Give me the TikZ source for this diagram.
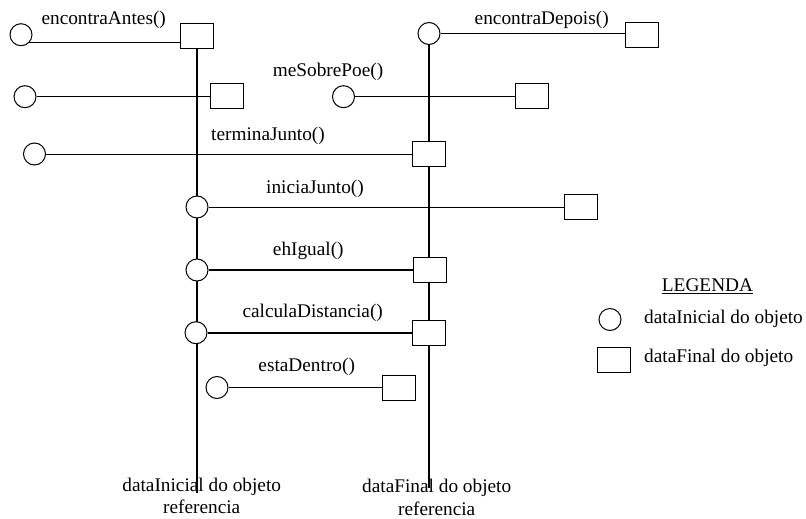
\documentclass[tikz,border=0pt]{standalone}
\usepackage{fontspec}
\setmainfont{Liberation Serif}
\usetikzlibrary{backgrounds}
\begin{document}
\begin{tikzpicture}[x=1pt,y=-1pt,
  txt/.style={font=\fontsize{19.3}{22}\selectfont, inner sep=0pt, anchor=base},
  ini/.style={circle, draw, line width=1pt, fill=white, minimum size=22pt, inner sep=0pt},
  fim/.style={rectangle, draw, line width=1pt, fill=white, minimum width=33pt, minimum height=25pt, inner sep=0pt},
  eixo/.style={line width=1.8pt},
  liga/.style={line width=1pt},
  ligaforte/.style={line width=1.6pt}]
\useasboundingbox (0,0) rectangle (806,519);

% start (circle) and end (square) markers
\node[ini] (c1) at (21,34.7) {};   \node[fim] (s1) at (197,36.2) {};
\node[ini] (c2) at (25,96.7) {};   \node[fim] (s2) at (227,96) {};
\node[ini] (c3) at (429,33.5) {};  \node[fim] (s3) at (641.5,34.7) {};
\node[ini] (c4) at (343.5,96.7) {};\node[fim] (s4) at (531.5,96) {};
\node[ini] (c5) at (34.5,154) {};  \node[fim] (s5) at (429,153.7) {};
\node[ini] (c6) at (197,207) {};   \node[fim] (s6) at (581,207.3) {};
\node[ini] (c7) at (197,270) {};   \node[fim] (s7) at (429.5,270.3) {};
\node[ini] (c8) at (196,332.7) {}; \node[fim] (s8) at (428.5,333.3) {};
\node[ini] (c9) at (217,387.5) {}; \node[fim] (s9) at (398.7,388.3) {};

% lower ends of the two reference axes
\coordinate (fimA) at (197,493);
\coordinate (fimB) at (429,488);

\begin{pgfonlayer}{background}
  \draw[eixo] (s1.south) -- (fimA);
  \draw[eixo] (c3.south) -- (fimB);
  \draw[liga] (c1.-45) -- (c1.-45 -| s1.west);
  \draw[liga] (c2.east) -- (c2.east -| s2.west);
  \draw[liga] (c3.east) -- (c3.east -| s3.west);
  \draw[liga] (c4.east) -- (c4.east -| s4.west);
  \draw[liga] (c5.east) -- (c5.east -| s5.west);
  \draw[liga] (c6.east) -- (c6.east -| s6.west);
  \draw[ligaforte] (c7.east) -- (c7.east -| s7.west);
  \draw[ligaforte] (c8.east) -- (c8.east -| s8.west);
  \draw[liga] (c9.east) -- (c9.east -| s9.west);
\end{pgfonlayer}

% operation names
\node[txt] (tA) at (103.7,25) {encontraAntes()};
\node[txt] (tD) at (541.7,25) {encontraDepois()};
\node[txt] (tS) at (328,76.5) {meSobrePoe()};
\node[txt] (tT) at (268,140) {terminaJunto()};
\node[txt] (tI) at (315,193.3) {iniciaJunto()};
\node[txt] (tE) at (308.3,255) {ehIgual()};
\node[txt] (tC) at (312.7,317) {calculaDistancia()};
\node[txt] (tX) at (306.7,371.7) {estaDentro()};

% axis captions
\node[txt] (bA1) at (201.7,491) {dataInicial do objeto};
\node[txt] (bA2) at (201.7,513) {referencia};
\node[txt] (bB1) at (436.7,492.3) {dataFinal do objeto};
\node[txt] (bB2) at (436.7,515) {referencia};

% legend
\node[txt] (leg) at (707.5,291.5) {\underline{LEGENDA}};
\node[ini] (lc) at (610,319.5) {};
\node[fim] (ls) at (613.5,359.5) {};
\node[txt, anchor=base west] (lt1) at (644,323.5) {dataInicial do objeto};
\node[txt, anchor=base west] (lt2) at (644,362.5) {dataFinal do objeto};
\end{tikzpicture}
\end{document}
